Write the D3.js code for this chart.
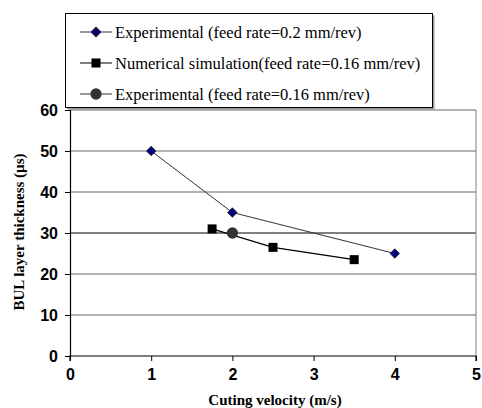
<!DOCTYPE html>
<html>
<head>
<meta charset="utf-8">
<script src="https://cdn.jsdelivr.net/npm/d3@7"></script>
<style>
body { margin: 0; background: #fff; }
.tick text { font-family: "Liberation Sans", Arial, sans-serif; font-weight: bold; font-size: 16px; fill: #000; }
.serif { font-family: "Liberation Serif", "Times New Roman", serif; }
</style>
</head>
<body>
<div id="chart"></div>
<script>
var width = 482, height = 408;

// data
var expFeed02 = [{x: 1, y: 50}, {x: 2, y: 35}, {x: 4, y: 25}];
var simFeed016 = [{x: 1.75, y: 31}, {x: 2.5, y: 26.5}, {x: 3.5, y: 23.5}];
var expFeed016 = [{x: 2, y: 30}];
var xTicks = [0, 1, 2, 3, 4, 5];
var yTicks = [0, 10, 20, 30, 40, 50, 60];
var legendNames = ["Experimental (feed rate=0.2 mm/rev)",
                   "Numerical simulation(feed rate=0.16 mm/rev)",
                   "Experimental (feed rate=0.16 mm/rev)"];

var plot = {left: 70, right: 476, top: 110, bottom: 356};

var x = d3.scaleLinear().domain([0, 5]).range([plot.left, plot.right]);
var y = d3.scaleLinear().domain([0, 60]).range([plot.bottom, plot.top]);

var svg = d3.select("#chart").append("svg")
    .attr("width", width)
    .attr("height", height);

// grid lines
svg.append("g").selectAll("line")
    .data(yTicks.filter(function(d) { return d > 0; }))
    .enter().append("line")
    .attr("x1", plot.left).attr("x2", plot.right)
    .attr("y1", function(d) { return y(d); })
    .attr("y2", function(d) { return y(d); })
    .attr("stroke", function(d) { return d == 30 ? "#000" : "#666"; })
    .attr("stroke-width", 1);

// right border
svg.append("line")
    .attr("x1", plot.right).attr("x2", plot.right)
    .attr("y1", plot.top).attr("y2", plot.bottom)
    .attr("stroke", "#808080");

// axes
var xAxis = svg.append("g")
    .attr("transform", "translate(0," + plot.bottom + ")")
    .call(d3.axisBottom(x).tickValues(xTicks).tickSize(5).tickPadding(8).tickFormat(d3.format("d")));
var yAxis = svg.append("g")
    .attr("transform", "translate(" + plot.left + ",0)")
    .call(d3.axisLeft(y).tickValues(yTicks).tickSize(5).tickPadding(7).tickFormat(d3.format("d")));

[xAxis, yAxis].forEach(function(a) {
    a.attr("font-family", null).attr("font-size", null);
    a.select(".domain").attr("stroke", "#000").attr("stroke-width", 1.2);
    a.selectAll(".tick line").attr("stroke", "#000");
});
xAxis.select(".domain").attr("d", "M" + plot.left + ",5V0H" + plot.right + "V5");

// axis titles
svg.append("text")
    .attr("class", "serif")
    .attr("x", (plot.left + plot.right) / 2 + 2)
    .attr("y", 405)
    .attr("text-anchor", "middle")
    .style("font-weight", "bold")
    .style("font-size", "15px")
    .text("Cuting velocity (m/s)");

svg.append("text")
    .attr("class", "serif")
    .attr("transform", "translate(24," + 232 + ") rotate(-90)")
    .attr("text-anchor", "middle")
    .style("font-weight", "bold")
    .style("font-size", "15px")
    .text("BUL layer thickness (\u00b5s)");

var line = d3.line()
    .x(function(d) { return x(d.x); })
    .y(function(d) { return y(d.y); });

// series lines
svg.append("path").datum(expFeed02)
    .attr("d", line).attr("fill", "none").attr("stroke", "#333").attr("stroke-width", 1);
svg.append("path").datum(simFeed016)
    .attr("d", line).attr("fill", "none").attr("stroke", "#000").attr("stroke-width", 1.3);

var diamond = d3.symbol().type(d3.symbolSquare).size(45);
var square = d3.symbol().type(d3.symbolSquare).size(81);
var circle = d3.symbol().type(d3.symbolCircle).size(100);

svg.append("g").selectAll("path")
    .data(expFeed02).enter().append("path")
    .attr("d", diamond)
    .attr("transform", function(d) { return "translate(" + x(d.x) + "," + y(d.y) + ") rotate(45)"; })
    .attr("fill", "#000080").attr("stroke", "#222").attr("stroke-width", 0.8);

svg.append("g").selectAll("path")
    .data(simFeed016).enter().append("path")
    .attr("d", square)
    .attr("transform", function(d) { return "translate(" + x(d.x) + "," + y(d.y) + ")"; })
    .attr("fill", "#000");

svg.append("g").selectAll("path")
    .data(expFeed016).enter().append("path")
    .attr("d", circle)
    .attr("transform", function(d) { return "translate(" + x(d.x) + "," + y(d.y) + ")"; })
    .attr("fill", "#333");

// legend
var legend = svg.append("g");
legend.append("rect")
    .attr("x", 67.5).attr("y", 15.5).attr("width", 367).attr("height", 94)
    .attr("fill", "#999");
legend.append("rect")
    .attr("x", 65.5).attr("y", 13.5).attr("width", 367).attr("height", 94)
    .attr("fill", "#fff").attr("stroke", "#000").attr("stroke-width", 1);

var legendSymbols = [
    {sym: diamond, rot: 45, fill: "#000080", stroke: "#222", line: "#333"},
    {sym: square, rot: 0, fill: "#000", stroke: "none", line: "#000"},
    {sym: circle, rot: 0, fill: "#333", stroke: "none", line: "#333"}
];
var items = legend.selectAll(".item")
    .data(legendNames).enter().append("g")
    .attr("transform", function(d, i) { return "translate(0," + (32 + i * 31) + ")"; });
items.append("line")
    .attr("x1", 80).attr("x2", 112).attr("y1", 0).attr("y2", 0)
    .attr("stroke", function(d, i) { return legendSymbols[i].line; });
items.append("path")
    .attr("d", function(d, i) { return legendSymbols[i].sym(); })
    .attr("transform", function(d, i) { return "translate(96,0) rotate(" + legendSymbols[i].rot + ")"; })
    .attr("fill", function(d, i) { return legendSymbols[i].fill; })
    .attr("stroke", function(d, i) { return legendSymbols[i].stroke; });
items.append("text")
    .attr("class", "serif")
    .attr("x", 115).attr("y", 6)
    .style("font-size", "16.5px")
    .text(function(d) { return d; });
</script>
</body>
</html>
